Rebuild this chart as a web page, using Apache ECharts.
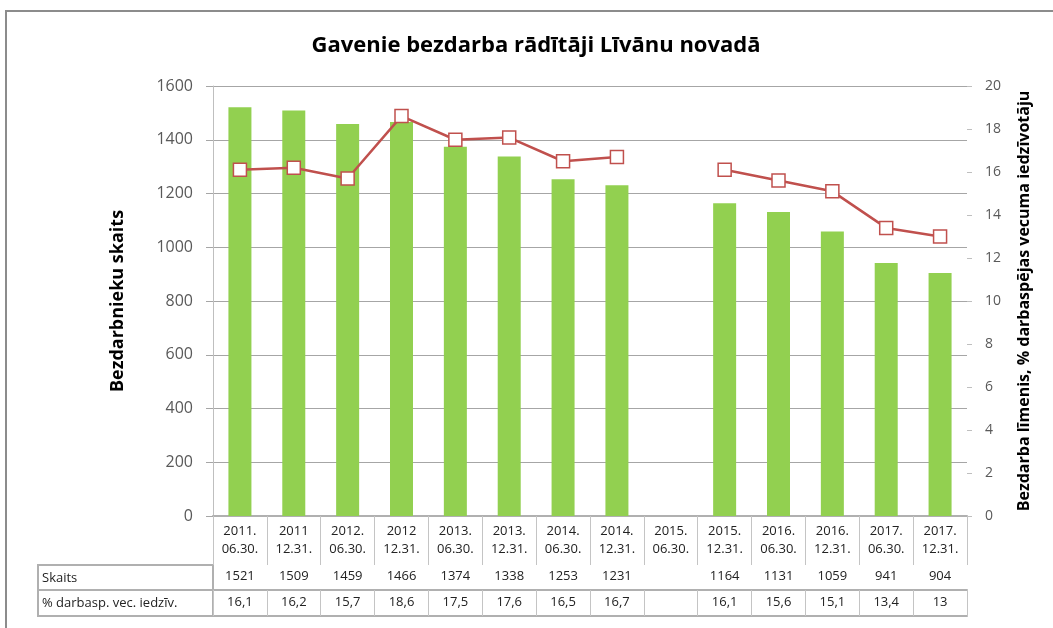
<!DOCTYPE html>
<html>
<head>
<meta charset="utf-8">
<script src="https://cdn.jsdelivr.net/npm/echarts@6/dist/echarts.min.js"></script>
<style>
  html, body { margin: 0; padding: 0; background: #fff; }
  #main { width: 1053px; height: 628px; }
</style>
</head>
<body>
<div id="main"></div>
<script>
// datumi (kategorijas)
const dates = ['2011.\n06.30.', '2011\n12.31.', '2012.\n06.30.', '2012\n12.31.', '2013.\n06.30.', '2013.\n12.31.', '2014.\n06.30.',
  '2014.\n12.31.', '2015.\n06.30.', '2015.\n12.31.', '2016.\n06.30.', '2016.\n12.31.', '2017.\n06.30.', '2017.\n12.31.'];
// bezdarbnieku skaits
const skaits = [1521, 1509, 1459, 1466, 1374, 1338, 1253, 1231, null, 1164, 1131, 1059, 941, 904];
// bezdarba līmenis, %
const limenis = [16.1, 16.2, 15.7, 18.6, 17.5, 17.6, 16.5, 16.7, null, 16.1, 15.6, 15.1, 13.4, 13];

const rowNames = ['Skaits', '% darbasp. vec. iedzīv.'];

const FONT = 'Open Sans';
const tableLine = { lineStyle: { color: '#b0b0b0', width: 2 } };
const tableTick = { show: true, interval: 0, lineStyle: { color: '#c4c4c4', width: 1 } };

// tabulas rindas teksti
const skaitsRow = skaits.map(v => v == null ? '' : String(v));
const limenisRow = limenis.map(v => v == null ? '' : String(v).replace('.', ','));

const chart = echarts.init(document.getElementById('main'));
chart.setOption({
  animation: false,
  textStyle: { fontFamily: FONT },
  title: {
    text: 'Gavenie bezdarba rādītāji Līvānu novadā',
    left: 531, top: 30, textAlign: 'center',
    textStyle: { fontFamily: FONT, fontSize: 22, fontWeight: 'bold', color: '#000' }
  },
  grid: { left: 213, right: 86, top: 86, bottom: 112 },
  xAxis: [
    {
      type: 'category', data: dates, position: 'bottom',
      axisLine: { lineStyle: { color: '#bfbfbf', width: 1 } },
      axisTick: Object.assign({ length: 49 }, tableTick),
      axisLabel: { interval: 0, margin: 6, fontSize: 13, lineHeight: 18, color: '#222', fontFamily: FONT }
    },
    {
      type: 'category', data: skaitsRow, position: 'bottom', offset: 49,
      axisLine: tableLine,
      axisTick: Object.assign({ length: 25 }, tableTick),
      axisLabel: { interval: 0, margin: 5, fontSize: 13, color: '#222', fontFamily: FONT }
    },
    {
      type: 'category', data: limenisRow, position: 'bottom', offset: 74,
      axisLine: tableLine,
      axisTick: Object.assign({ length: 26 }, tableTick),
      axisLabel: { interval: 0, margin: 6, fontSize: 13, color: '#222', fontFamily: FONT }
    },
    {
      type: 'category', data: dates, position: 'bottom', offset: 100,
      axisLine: tableLine, axisTick: { show: false }, axisLabel: { show: false }
    }
  ],
  yAxis: [
    {
      type: 'value', min: 0, max: 1600, interval: 200,
      name: 'Bezdarbnieku skaits', nameLocation: 'middle', nameGap: 86, nameRotate: 90,
      nameTextStyle: { fontFamily: FONT, fontSize: 18, fontWeight: 'bold', color: '#000' },
      axisLine: { show: true, lineStyle: { color: '#bfbfbf' } },
      axisTick: { show: true, length: 7, lineStyle: { color: '#a6a6a6' } },
      axisLabel: { margin: 20, fontSize: 16, color: '#595959', fontFamily: FONT, formatter: v => String(v) },
      splitLine: { lineStyle: { color: '#a6a6a6', width: 1 } }
    },
    {
      type: 'value', min: 0, max: 20, interval: 2, position: 'right',
      name: 'Bezdarba līmenis, % darbaspējas vecuma iedzīvotāju', nameLocation: 'middle', nameGap: 49, nameRotate: 90,
      nameTextStyle: { fontFamily: FONT, fontSize: 16, fontWeight: 'bold', color: '#000' },
      axisLine: { show: false },
      axisTick: { show: true, length: 5, lineStyle: { color: '#bfbfbf' } },
      axisLabel: { margin: 18, fontSize: 14, color: '#595959', fontFamily: FONT },
      splitLine: { show: false }
    }
  ],
  graphic: [
    // ārējais rāmis
    { type: 'rect', shape: { x: 6, y: 11, width: 1100, height: 700 }, style: { fill: 'none', stroke: '#8c8c8c', lineWidth: 2 }, silent: true },
    // rindu virsraksti
    { type: 'rect', shape: { x: 38, y: 565, width: 175, height: 51 }, style: { fill: 'none', stroke: '#b0b0b0', lineWidth: 2 }, silent: true },
    { type: 'line', shape: { x1: 38, y1: 590, x2: 213, y2: 590 }, style: { stroke: '#b0b0b0', lineWidth: 2 }, silent: true },
    { type: 'text', x: 42, y: 578, style: { text: rowNames[0], font: '13px "' + FONT + '"', fill: '#222', textVerticalAlign: 'middle' }, silent: true },
    { type: 'text', x: 42, y: 603, style: { text: rowNames[1], font: '13px "' + FONT + '"', fill: '#222', textVerticalAlign: 'middle' }, silent: true }
  ],
  series: [
    {
      name: 'Skaits', type: 'bar', data: skaits, barWidth: 23,
      itemStyle: { color: '#92D050' }
    },
    {
      name: '%', type: 'line', yAxisIndex: 1, data: limenis, connectNulls: false,
      symbol: 'rect', symbolSize: 13,
      lineStyle: { color: '#C0504D', width: 2.5 },
      itemStyle: { color: '#fff', borderColor: '#C0504D', borderWidth: 1.5 },
      z: 5
    }
  ]
});
</script>
</body>
</html>
